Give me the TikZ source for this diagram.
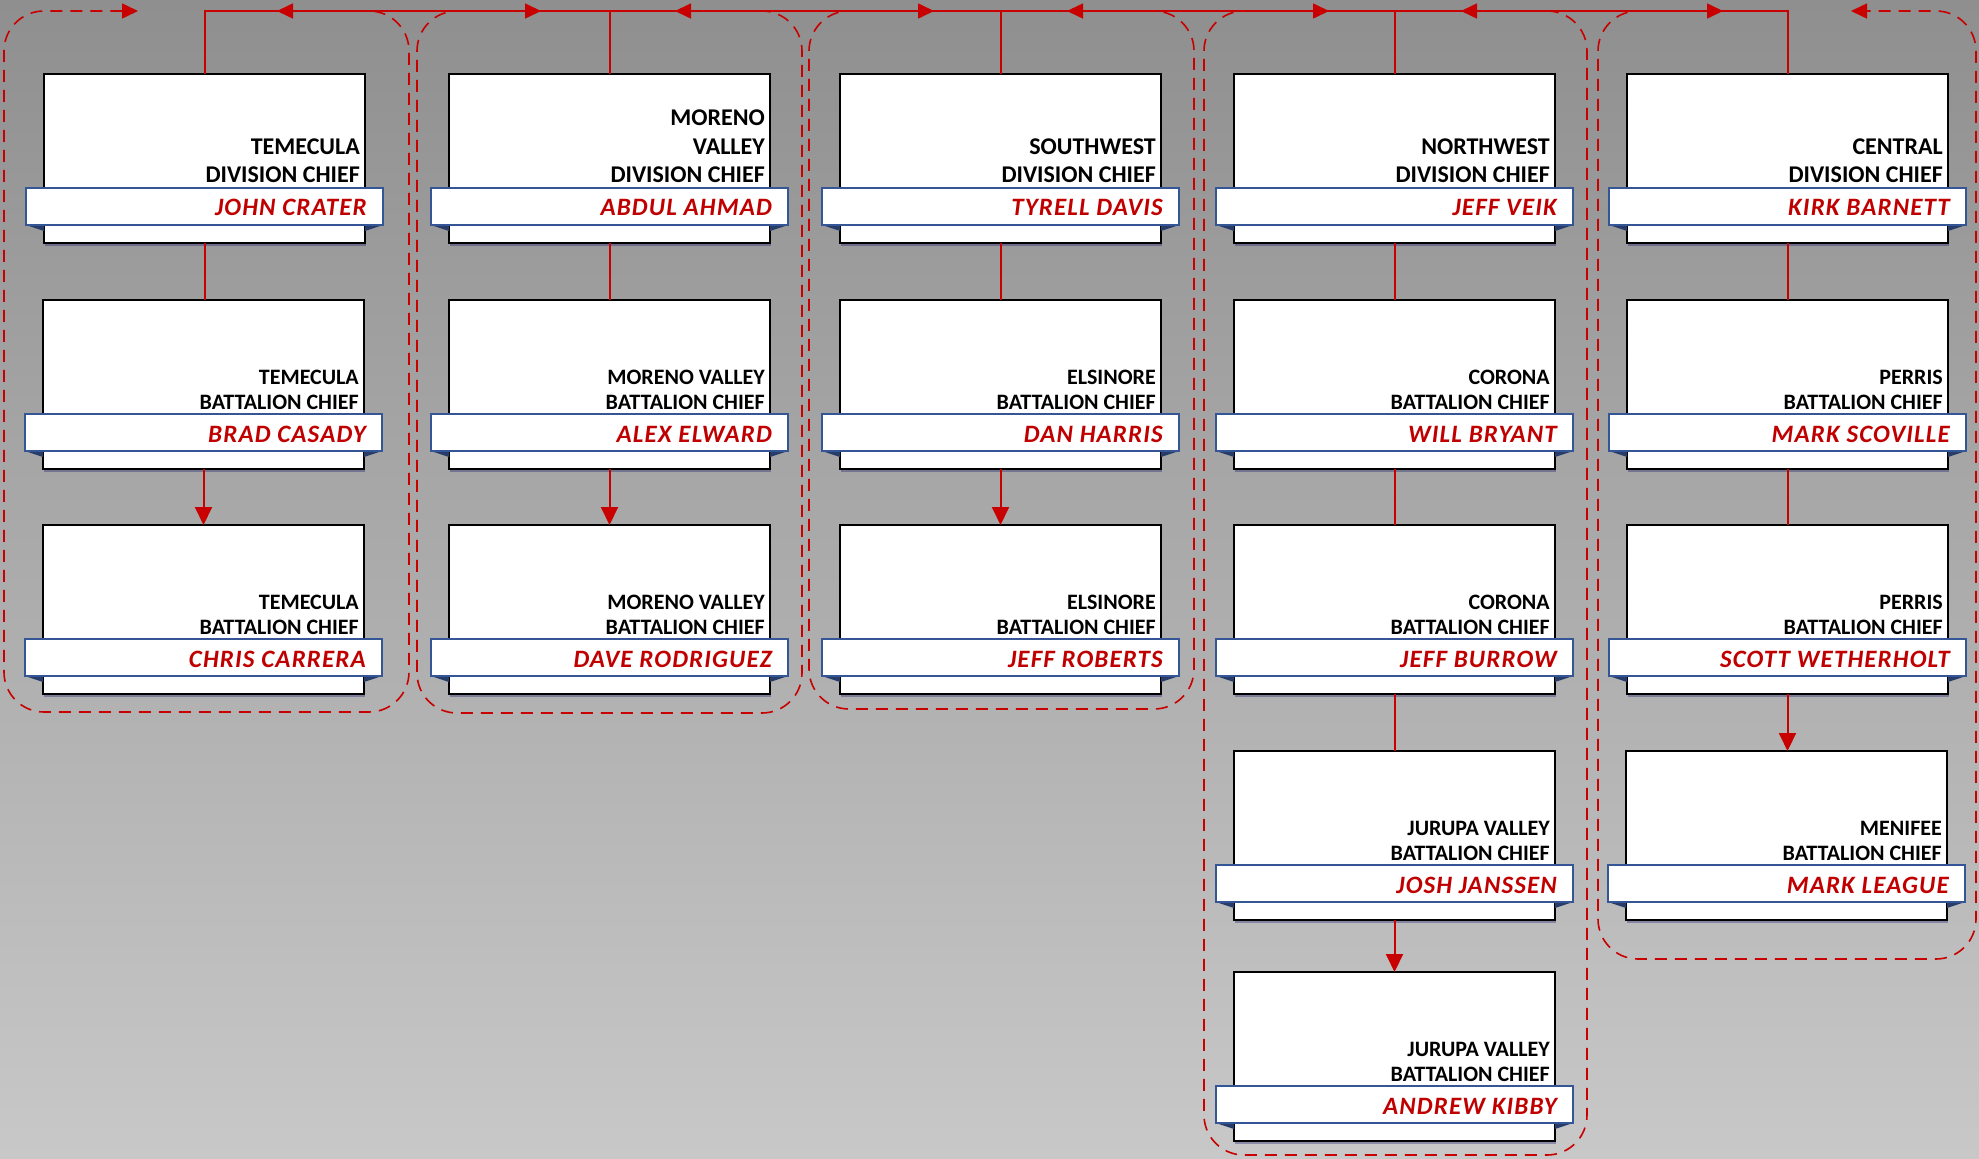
\documentclass[tikz,border=0pt]{standalone}
\usepackage{fontspec}
\setmainfont{Carlito}
\usetikzlibrary{arrows.meta,shadows}
\definecolor{orgred}{RGB}{192,0,0}
\definecolor{lnred}{RGB}{200,0,0}
\definecolor{ribblue}{RGB}{52,85,150}
\definecolor{taildark}{RGB}{40,60,105}
\definecolor{bgtop}{RGB}{143,143,143}
\definecolor{bgbot}{RGB}{200,200,200}
\newcommand\orgcard[7]{% id, x, y, line1, line2, name, style
  \node[card] (c#1) at (#2,#3) {};
  \fill[taildark] (#2-18,#3+151) -- (#2,#3+151) -- (#2,#3+157) -- cycle;
  \fill[taildark] (#2+339,#3+151) -- (#2+321,#3+151) -- (#2+321,#3+157) -- cycle;
  \node[ribbon] (r#1) at (#2-18,#3+114) {};
  \node[#7] (ta#1) at (#2+316,#3+84) {#4};
  \node[#7] (tb#1) at (#2+316,#3+109) {#5};
  \node[nm] (n#1) at (#2+323,#3+142) {#6};
}
\newcommand\divcard[6]{% id, x, line0, line1, line2, name
  \node[card] (c#1) at (#2,74) {};
  \fill[taildark] (#2-18,225) -- (#2,225) -- (#2,231) -- cycle;
  \fill[taildark] (#2+339,225) -- (#2+321,225) -- (#2+321,231) -- cycle;
  \node[ribbon] (r#1) at (#2-18,188) {};
  \node[ttlbig] (t0#1) at (#2+316,125) {#3};
  \node[ttlbig] (ta#1) at (#2+316,154) {#4};
  \node[ttlbig] (tb#1) at (#2+316,182) {#5};
  \node[nm] (n#1) at (#2+323,215) {#6};
}
\begin{document}
\begin{tikzpicture}[x=1pt,y=-1pt,
  card/.style={draw=black, line width=2pt, fill=white, minimum width=321pt, minimum height=169pt,
    inner sep=0pt, outer sep=0pt, anchor=north west,
    drop shadow={shadow xshift=1pt, shadow yshift=-3pt, opacity=0.3, fill=black!60!blue}},
  ribbon/.style={draw=ribblue, line width=2pt, fill=white, minimum width=357pt, minimum height=37pt,
    inner sep=0pt, outer sep=0pt, anchor=north west},
  ttl/.style={anchor=base east, inner sep=0pt, font=\bfseries\fontsize{22}{25}\selectfont},
  ttlbig/.style={anchor=base east, inner sep=0pt, font=\bfseries\fontsize{24}{28}\selectfont},
  nm/.style={anchor=base east, inner sep=0pt, text=orgred,
    font=\bfseries\itshape\fontsize{25}{30}\selectfont\addfontfeatures{LetterSpace=4.5}},
  link/.style={draw=lnred, line width=2pt},
  arr/.style={link, -{Triangle[length=18pt,width=17pt]}},
  grp/.style={draw=lnred, line width=1.6pt, dash pattern=on 12pt off 8pt, rounded corners=40pt,
    {Triangle[length=16pt,width=15pt]}-{Triangle[length=16pt,width=15pt]}},
]
\useasboundingbox (0,0) rectangle (1979,1159);
\shade[top color=bgtop, bottom color=bgbot] (0,0) rectangle (1979,1159);

% group frames
\draw[grp] (138,11) -- (4,11) -- (4,712) -- (409,712) -- (409,11) -- (277,11);
\draw[grp] (541,11) -- (417,11) -- (417,713) -- (802,713) -- (802,11) -- (675,11);
\draw[grp] (934,11) -- (809,11) -- (809,709) -- (1194,709) -- (1194,11) -- (1067,11);
\draw[grp] (1329,11) -- (1204,11) -- (1204,1155) -- (1587,1155) -- (1587,11) -- (1461,11);
\draw[grp] (1723,11) -- (1598,11) -- (1598,959) -- (1976,959) -- (1976,11) -- (1851,11);

% cards
\divcard{11}{44}{}{TEMECULA}{DIVISION CHIEF}{JOHN CRATER}
\orgcard{12}{43}{300}{TEMECULA}{BATTALION CHIEF}{BRAD CASADY}{ttl}
\orgcard{13}{43}{525}{TEMECULA}{BATTALION CHIEF}{CHRIS CARRERA}{ttl}

\divcard{21}{449}{MORENO}{VALLEY}{DIVISION CHIEF}{ABDUL AHMAD}
\orgcard{22}{449}{300}{MORENO VALLEY}{BATTALION CHIEF}{ALEX ELWARD}{ttl}
\orgcard{23}{449}{525}{MORENO VALLEY}{BATTALION CHIEF}{DAVE RODRIGUEZ}{ttl}

\divcard{31}{840}{}{SOUTHWEST}{DIVISION CHIEF}{TYRELL DAVIS}
\orgcard{32}{840}{300}{ELSINORE}{BATTALION CHIEF}{DAN HARRIS}{ttl}
\orgcard{33}{840}{525}{ELSINORE}{BATTALION CHIEF}{JEFF ROBERTS}{ttl}

\divcard{41}{1234}{}{NORTHWEST}{DIVISION CHIEF}{JEFF VEIK}
\orgcard{42}{1234}{300}{CORONA}{BATTALION CHIEF}{WILL BRYANT}{ttl}
\orgcard{43}{1234}{525}{CORONA}{BATTALION CHIEF}{JEFF BURROW}{ttl}
\orgcard{44}{1234}{751}{JURUPA VALLEY}{BATTALION CHIEF}{JOSH JANSSEN}{ttl}
\orgcard{45}{1234}{972}{JURUPA VALLEY}{BATTALION CHIEF}{ANDREW KIBBY}{ttl}

\divcard{51}{1627}{}{CENTRAL}{DIVISION CHIEF}{KIRK BARNETT}
\orgcard{52}{1627}{300}{PERRIS}{BATTALION CHIEF}{MARK SCOVILLE}{ttl}
\orgcard{53}{1627}{525}{PERRIS}{BATTALION CHIEF}{SCOTT WETHERHOLT}{ttl}
\orgcard{54}{1626}{751}{MENIFEE}{BATTALION CHIEF}{MARK LEAGUE}{ttl}

% top bus
\draw[link] (c11.north) -- ++(0,-63) -| (c51.north);
\draw[link] (c21.north) -- (c21.north |- 0,11);
\draw[link] (c31.north) -- (c31.north |- 0,11);
\draw[link] (c41.north) -- (c41.north |- 0,11);

% column links
\draw[link] (c11.south) -- (c11.south |- c12.north);
\draw[arr]  (c12.south) -- (c13.north);
\draw[link] (c21.south) -- (c22.north);
\draw[arr]  (c22.south) -- (c23.north);
\draw[link] (c31.south) -- (c32.north);
\draw[arr]  (c32.south) -- (c33.north);
\draw[link] (c41.south) -- (c42.north);
\draw[link] (c42.south) -- (c43.north);
\draw[link] (c43.south) -- (c44.north);
\draw[arr]  (c44.south) -- (c45.north);
\draw[link] (c51.south) -- (c52.north);
\draw[link] (c52.south) -- (c53.north);
\draw[arr]  (c53.south) -- (c53.south |- c54.north);
\end{tikzpicture}
\end{document}
